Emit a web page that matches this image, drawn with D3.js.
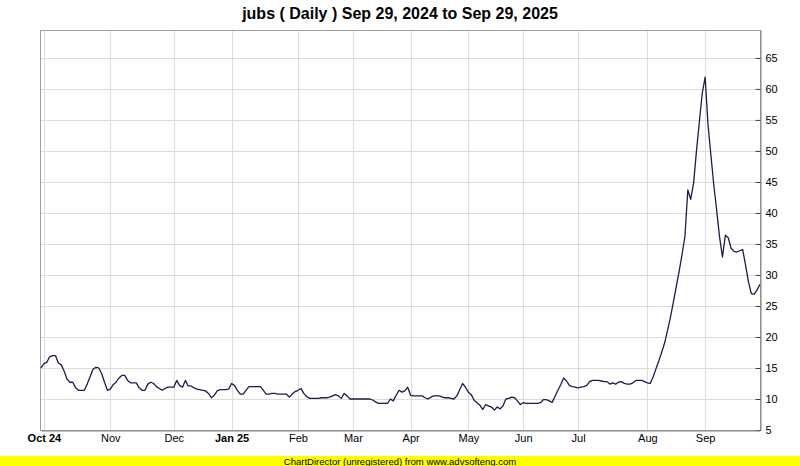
<!DOCTYPE html>
<html>
<head>
<meta charset="utf-8">
<script src="https://cdn.jsdelivr.net/npm/d3@7"></script>
<style>
  html, body { margin: 0; padding: 0; background: #ffffff; }
  svg { display: block; font-family: "Liberation Sans", Arial, sans-serif; }
</style>
</head>
<body>
<svg id="chart" width="800" height="466"></svg>
<script>
// ---- Data (daily closes, trading-day order) ----
const values = [
  15.0, 15.7, 15.9, 16.8, 17.0, 17.0, 15.8, 15.5, 14.5, 13.2,
  12.7, 12.7, 11.8, 11.4, 11.4, 11.4, 12.4, 13.6, 14.8, 15.1,
  15.0, 14.1, 12.7, 11.4, 11.6, 12.3, 12.7, 13.4, 13.8, 13.8,
  13.0, 12.6, 12.6, 12.6, 11.8, 11.4, 11.4, 12.4, 12.7, 12.5,
  12.0, 11.7, 11.4, 11.7, 11.9, 11.9, 11.9, 13.0, 12.2, 11.9,
  13.0, 12.1, 12.1, 11.8, 11.6, 11.5, 11.4, 11.3, 10.9, 10.2,
  10.6, 11.3, 11.5, 11.5, 11.5, 11.6, 12.5, 12.2, 11.4, 10.8,
  10.8, 11.4, 12.0, 12.0, 12.0, 12.0, 12.0, 11.4, 10.8, 10.8,
  10.9, 10.9, 10.8, 10.8, 10.8, 10.8, 10.3, 10.8, 11.2, 11.4,
  11.7, 10.9, 10.4, 10.1, 10.1, 10.1, 10.1, 10.2, 10.2, 10.2,
  10.3, 10.5, 10.7, 10.5, 10.1, 10.9, 10.5, 10.0, 10.0, 10.0,
  10.0, 10.0, 10.0, 10.0, 10.0, 9.8, 9.5, 9.3, 9.3, 9.3,
  9.3, 10.0, 9.7, 10.6, 11.4, 11.1, 11.3, 11.9, 10.6, 10.5,
  10.5, 10.5, 10.5, 10.2, 10.0, 10.3, 10.5, 10.5, 10.5, 10.3,
  10.2, 10.2, 10.1, 10.0, 10.5, 11.5, 12.5, 11.9, 11.1, 10.7,
  9.8, 9.4, 9.0, 8.3, 9.1, 8.9, 8.7, 8.2, 8.7, 8.4,
  8.9, 10.0, 10.1, 10.3, 10.2, 9.7, 9.1, 9.4, 9.3, 9.3,
  9.3, 9.3, 9.3, 9.4, 9.9, 9.9, 9.7, 9.45, 10.4, 11.4,
  12.3, 13.4, 12.9, 12.2, 12.0, 11.9, 11.8, 11.9, 12.0, 12.2,
  12.8, 13.0, 13.0, 13.0, 12.9, 12.8, 12.8, 12.4, 12.6, 12.4,
  12.7, 12.8, 12.5, 12.4, 12.4, 12.6, 13.0, 13.0, 13.0, 12.8,
  12.6, 12.5, 13.6, 14.9, 16.2, 17.6, 19.1, 21.1, 23.2, 25.6,
  28.1, 30.6, 33.3, 36.2, 43.7, 42.2, 44.8, 50.0, 54.7, 59.3,
  61.9, 54.2, 49.3, 44.5, 40.4, 36.1, 32.9, 36.4, 36.0, 34.3,
  33.8, 33.7, 33.9, 34.1, 31.6, 28.9, 27.0, 26.9, 27.6, 28.5
];
const monthTickIndex = [1, 24, 46, 66, 89, 108, 128, 148, 167, 186, 210, 230];
const monthLabels = ["Oct 24", "Nov", "Dec", "Jan 25", "Feb", "Mar", "Apr", "May", "Jun", "Jul", "Aug", "Sep"];
const yearLabels = ["Oct 24", "Jan 25"];
const yTicks = [5, 10, 15, 20, 25, 30, 35, 40, 45, 50, 55, 60, 65];
const yDomain = [5, 69.5];
const titleText = "jubs ( Daily ) Sep 29, 2024 to Sep 29, 2025";
const footerText = "ChartDirector (unregistered) from www.advsofteng.com";

// ---- Layout ----
const W = 800, H = 466;
const plot = { left: 40, top: 30, right: 760, bottom: 430 };

const svg = d3.select("#chart");

const x = d3.scaleLinear().domain([0, values.length - 1]).range([plot.left + 1, plot.right]);
const y = d3.scaleLinear().domain(yDomain).range([plot.bottom, plot.top]);

// background
svg.append("rect").attr("x", 0).attr("y", 0).attr("width", W).attr("height", H).attr("fill", "#ffffff");
svg.append("rect")
  .attr("x", plot.left).attr("y", plot.top)
  .attr("width", plot.right - plot.left).attr("height", plot.bottom - plot.top)
  .attr("fill", "#ffffff");

// horizontal grid
svg.append("g").selectAll("line")
  .data(yTicks.filter(v => v > yDomain[0]))
  .join("line")
  .attr("x1", plot.left).attr("x2", plot.right)
  .attr("y1", d => Math.round(y(d)) + 0.5).attr("y2", d => Math.round(y(d)) + 0.5)
  .attr("stroke", "#dcdcdc").attr("stroke-width", 1);

// vertical grid
svg.append("g").selectAll("line")
  .data(monthTickIndex)
  .join("line")
  .attr("x1", d => Math.round(x(d)) + 0.5).attr("x2", d => Math.round(x(d)) + 0.5)
  .attr("y1", plot.top).attr("y2", plot.bottom)
  .attr("stroke", "#dcdcdc").attr("stroke-width", 1);

// plot border
svg.append("rect")
  .attr("x", plot.left + 0.5).attr("y", plot.top + 0.5)
  .attr("width", plot.right - plot.left).attr("height", plot.bottom - plot.top)
  .attr("fill", "none").attr("stroke", "#a0a0a0").attr("stroke-width", 1);

// price line
const line = d3.line().x((d, i) => x(i)).y(d => y(d));
svg.append("path")
  .datum(values)
  .attr("d", line)
  .attr("fill", "none")
  .attr("stroke", "#1c1c50")
  .attr("stroke-width", 1.3)
  .attr("stroke-linejoin", "round");

// right axis
const yAxis = d3.axisRight(y).tickValues(yTicks).tickSize(-5).tickSizeOuter(0).tickPadding(5);
const gy = svg.append("g")
  .attr("transform", `translate(${plot.right + 0.5},0)`)
  .call(yAxis);
gy.select(".domain").attr("stroke", "#808080");
gy.selectAll(".tick line").attr("stroke", "#404040");
gy.selectAll(".tick text")
  .attr("fill", "#000000")
  .attr("font-size", 11)
  .attr("font-family", "'Liberation Sans', Arial, sans-serif");

// bottom axis
const xAxis = d3.axisBottom(x)
  .tickValues(monthTickIndex)
  .tickFormat((d, i) => monthLabels[i])
  .tickSize(0).tickSizeOuter(0).tickPadding(4);
const gx = svg.append("g")
  .attr("transform", `translate(0,${plot.bottom + 0.5})`)
  .call(xAxis);
gx.select(".domain").attr("stroke", "#808080");
gx.selectAll(".tick text")
  .attr("fill", "#000000")
  .attr("font-size", 11)
  .attr("font-family", "'Liberation Sans', Arial, sans-serif")
  .attr("font-weight", d => yearLabels.includes(monthLabels[monthTickIndex.indexOf(d)]) ? "bold" : "normal");

// title
svg.append("text")
  .attr("x", W / 2).attr("y", 19)
  .attr("text-anchor", "middle")
  .attr("font-size", 16)
  .attr("font-weight", "bold")
  .attr("fill", "#000000")
  .text(titleText);

// footer
svg.append("rect").attr("x", 0).attr("y", 456).attr("width", W).attr("height", 10).attr("fill", "#ffff00");
svg.append("text")
  .attr("x", W / 2).attr("y", 464.5)
  .attr("text-anchor", "middle")
  .attr("font-size", 9.5)
  .attr("fill", "#000000")
  .text(footerText);
</script>
</body>
</html>
